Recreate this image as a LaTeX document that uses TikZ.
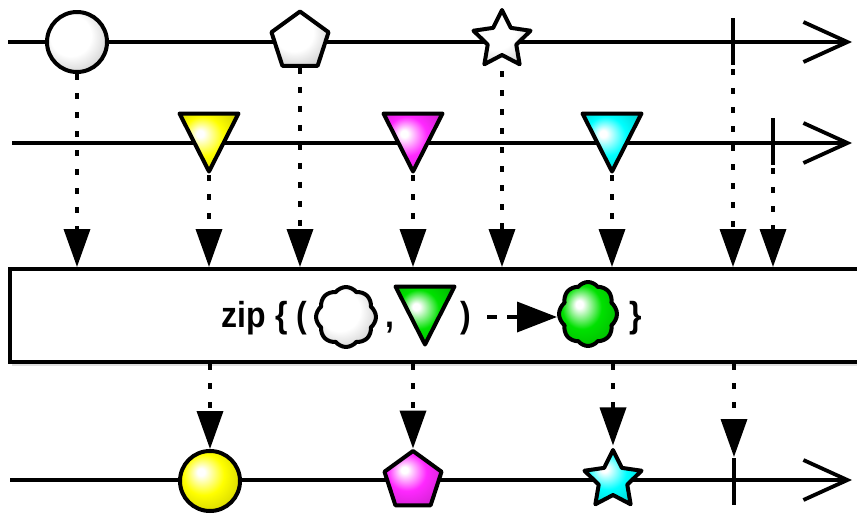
\documentclass[tikz,border=0pt]{standalone}
\usepackage{fontspec}
\setmainfont{Liberation Sans}
\usetikzlibrary{arrows.meta,shapes.geometric,shapes.symbols,calc,shadows}

\definecolor{mkY}{RGB}{255,255,0}
\definecolor{mkM}{RGB}{255,40,255}
\definecolor{mkC}{RGB}{0,255,255}
\definecolor{mkG}{RGB}{0,225,0}
\pgfdeclareradialshading{shW}{\pgfpoint{-8bp}{8bp}}{color(0bp)=(white); color(17bp)=(white); color(32bp)=(black!20); color(50bp)=(black!35)}
\newcommand\mkshade[2]{\pgfdeclareradialshading{#1}{\pgfpoint{-8bp}{8bp}}{color(0bp)=(white); color(3bp)=(white); color(17bp)=(#2); color(30bp)=(#2!85!black); color(50bp)=(#2!55!black)}}
\mkshade{shY}{mkY}
\mkshade{shM}{mkM}
\mkshade{shC}{mkC}
\mkshade{shG}{mkG}
\newcommand\dtri[2]{\path[marble, shading=#2] ($(#1)+(-29.5,-29.5)$) -- ($(#1)+(29.5,-29.5)$) -- ($(#1)+(0,28.5)$) -- cycle;}
\newcommand\tall[1]{\scalebox{1}[1.13]{#1}}

\begin{document}
\begin{tikzpicture}[x=1pt,y=-1pt,
  tlarrow/.style={line width=3.8pt, -{Straight Barb[length=44pt,width=40pt]}},
  marble/.style={draw, line width=4pt, line join=round, inner sep=0pt, shade},
  conn/.style={line width=3.6pt, dash pattern=on 6pt off 13pt, -{Triangle[length=38pt,width=26pt]}},
  tickmark/.style={line width=4pt},
  lbl/.style={font=\bfseries\fontsize{32}{32}\selectfont, inner sep=0pt, anchor=base},
  circ/.style={marble, circle, minimum size=60pt},
  pent/.style={marble, regular polygon, regular polygon sides=5, minimum size=60pt},
  starm/.style={marble, star, star points=5, star point ratio=2.0, minimum size=60pt},
  cloudm/.style={marble, cloud, cloud puffs=8, cloud puff arc=105, aspect=1},
]
\useasboundingbox (0,0) rectangle (857,514);

% timelines
\coordinate (r1s) at (8,42);   \coordinate (r1e) at (852,42);
\coordinate (r2s) at (12,143); \coordinate (r2e) at (852,143);
\coordinate (r3s) at (10,480); \coordinate (r3e) at (852,480);
\draw[tlarrow] (r1s) -- (r1e);
\draw[tlarrow] (r2s) -- (r2e);
\draw[tlarrow] (r3s) -- (r3e);

% row 1
\node[circ, shading=shW] (t1c) at (77,42) {};
\node[pent, shading=shW] (t1p) at (300,41.5) {};
\node[starm, shading=shW] (t1s) at (502,40) {};
\coordinate (k1) at (733,42);
\draw[tickmark] ($(k1)+(0,-24)$) -- ($(k1)+(0,23)$);

% row 2
\coordinate (y1) at (209,143);
\coordinate (m1) at (413,143);
\coordinate (c1) at (612,143);
\dtri{y1}{shY}
\dtri{m1}{shM}
\dtri{c1}{shC}
\coordinate (k2) at (773,143);
\draw[tickmark] ($(k2)+(0,-25)$) -- ($(k2)+(0,22)$);

% operator box
\node[draw, line width=4pt, fill=white, minimum width=860pt, minimum height=93pt,
      anchor=north west, inner sep=0pt,
      drop shadow={shadow xshift=2pt, shadow yshift=-4pt, opacity=0.25}] (zipbox) at (8,267) {};

\node[lbl, anchor=base west] (tzip) at (221,327) {\tall{zip}};
\node[lbl] (tlb) at (282,327) {\tall{\{}};
\node[lbl] (tlp) at (302,327) {\tall{(}};
\node[cloudm, shading=shW, minimum width=60pt, minimum height=60pt] (wcloud) at (346,317) {};
\node[lbl] (tcm) at (390,327) {\tall{,}};
\coordinate (g1) at (425,316);
\dtri{g1}{shG}
\node[lbl] (trp) at (466,327) {\tall{)}};
\node[cloudm, shading=shG, minimum width=58pt, minimum height=64pt] (gcloud) at (588,314) {};
\node[lbl] (trb) at (636,327) {\tall{\}}};
\coordinate (dst) at (487,317);
\draw[line width=3.6pt, dash pattern=on 10pt off 10pt, -{Triangle[length=40pt,width=30pt]}] (dst) -- (dst -| gcloud.west);

% row 3
\node[circ, shading=shY] (yc) at (210,481) {};
\node[pent, shading=shM] (mp) at (413,481) {};
\node[starm, shading=shC] (cs) at (613,480) {};
\coordinate (k4) at (734,480);
\draw[tickmark] ($(k4)+(0,-22)$) -- ($(k4)+(0,25)$);

% connectors into the box
\draw[conn] (t1c.south) -- (t1c.south |- zipbox.north);
\draw[conn] (t1p.south) -- (t1p.south |- zipbox.north);
\draw[conn, shorten <=14pt] (t1s.south) -- (t1s.south |- zipbox.north);
\draw[conn] ($(k1)+(0,27)$) -- (k1 |- zipbox.north);
\draw[conn] ($(y1)+(0,32)$) -- (y1 |- zipbox.north);
\draw[conn] ($(m1)+(0,32)$) -- (m1 |- zipbox.north);
\draw[conn] ($(c1)+(0,32)$) -- (c1 |- zipbox.north);
\draw[conn] ($(k2)+(0,25)$) -- (k2 |- zipbox.north);

% connectors out of the box
\draw[conn] (zipbox.south -| yc) -- (yc.north);
\draw[conn] (zipbox.south -| mp) -- (mp.north);
\draw[conn] (zipbox.south -| cs) -- (cs.north);
\draw[conn] (zipbox.south -| k4) -- ($(k4)+(0,-23)$);
\end{tikzpicture}
\end{document}
